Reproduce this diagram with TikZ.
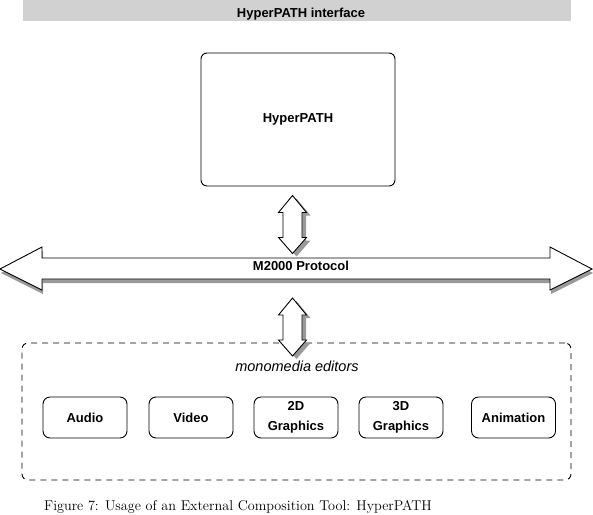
\documentclass[tikz,border=0pt]{standalone}
\usepackage{fontspec}
\newfontfamily\hv{Liberation Sans}
\definecolor{shadowc}{gray}{0.6}
\definecolor{bandc}{gray}{0.82}
\tikzset{
  lbl/.style={font=\hv\bfseries\fontsize{13}{20}\selectfont},
  rbox/.style={draw, line width=0.9pt, rounded corners=7pt, minimum width=84pt, minimum height=41pt, inner sep=0pt, align=center, lbl},
  arrline/.style={draw, line width=0.9pt, fill=white},
  shadowfill/.style={fill=shadowc, draw=none},
  vdarr/.pic={
    \path[shadowfill] (4,3) -- ++(14,17) -- ++(-4.5,0) -- ++(0,25) -- ++(4.5,0) -- ++(-14,16) -- ++(-14,-16) -- ++(4.5,0) -- ++(0,-25) -- ++(-4.5,0) -- cycle;
    \path[arrline] (0,0) -- ++(14,17) -- ++(-4.5,0) -- ++(0,25) -- ++(4.5,0) -- ++(-14,16) -- ++(-14,-16) -- ++(4.5,0) -- ++(0,-25) -- ++(-4.5,0) -- cycle;
  }
}
\begin{document}
\begin{tikzpicture}[x=1pt, y=-1pt]
\useasboundingbox (0,0) rectangle (593,514);

% top band
\node[fill=bandc, draw=none, minimum width=548pt, minimum height=21pt, inner sep=0pt] (band) at (297,10.5) {};
\node[lbl, anchor=base] (bandtext) at (301,17) {HyperPATH interface};

% HyperPATH box
\node[draw, line width=0.9pt, rounded corners=6pt, minimum width=194pt, minimum height=133pt, lbl] (hp) at (298,119.5) {HyperPATH};

% upper vertical double arrow
\pic at (292.5,195.5) {vdarr};

% horizontal bus arrow (shadow first)
\path[shadowfill] (1,273) -- (43,251) -- (43,262) -- (551,262) -- (551,251) -- (593,273) -- (551,294) -- (551,283) -- (43,283) -- (43,294) -- cycle;
\path[arrline] (0,269) -- (42,247) -- (42,258) -- (550,258) -- (550,247) -- (592,269) -- (550,290) -- (550,279) -- (42,279) -- (42,290) -- cycle;
\node[lbl, anchor=base] (bus) at (301,270) {M2000 Protocol};

% dashed editors frame
\node[draw, dash pattern=on 6pt off 5pt, line width=0.9pt, rounded corners=6pt, minimum width=549pt, minimum height=137pt, inner sep=0pt] (frame) at (296.5,411.5) {};

% lower vertical double arrow
\pic at (292.5,298) {vdarr};

\node[font=\hv\itshape\fontsize{14.5}{17}\selectfont, anchor=base] (mono) at (297,371) {monomedia editors};

\node[rbox] (audio) at (85,417.5) {Audio};
\node[rbox] (video) at (191,417.5) {Video};
\node[rbox] (g2d) at (296,417.5) {2D\\Graphics};
\node[rbox] (g3d) at (401,417.5) {3D\\Graphics};
\node[rbox] (anim) at (513.5,417.5) {Animation};

\node[anchor=base west, font=\fontsize{14.2}{16}\selectfont, inner sep=0pt] (cap) at (44,510) {Figure 7: Usage of an External Composition Tool: HyperPATH};
\end{tikzpicture}
\end{document}
